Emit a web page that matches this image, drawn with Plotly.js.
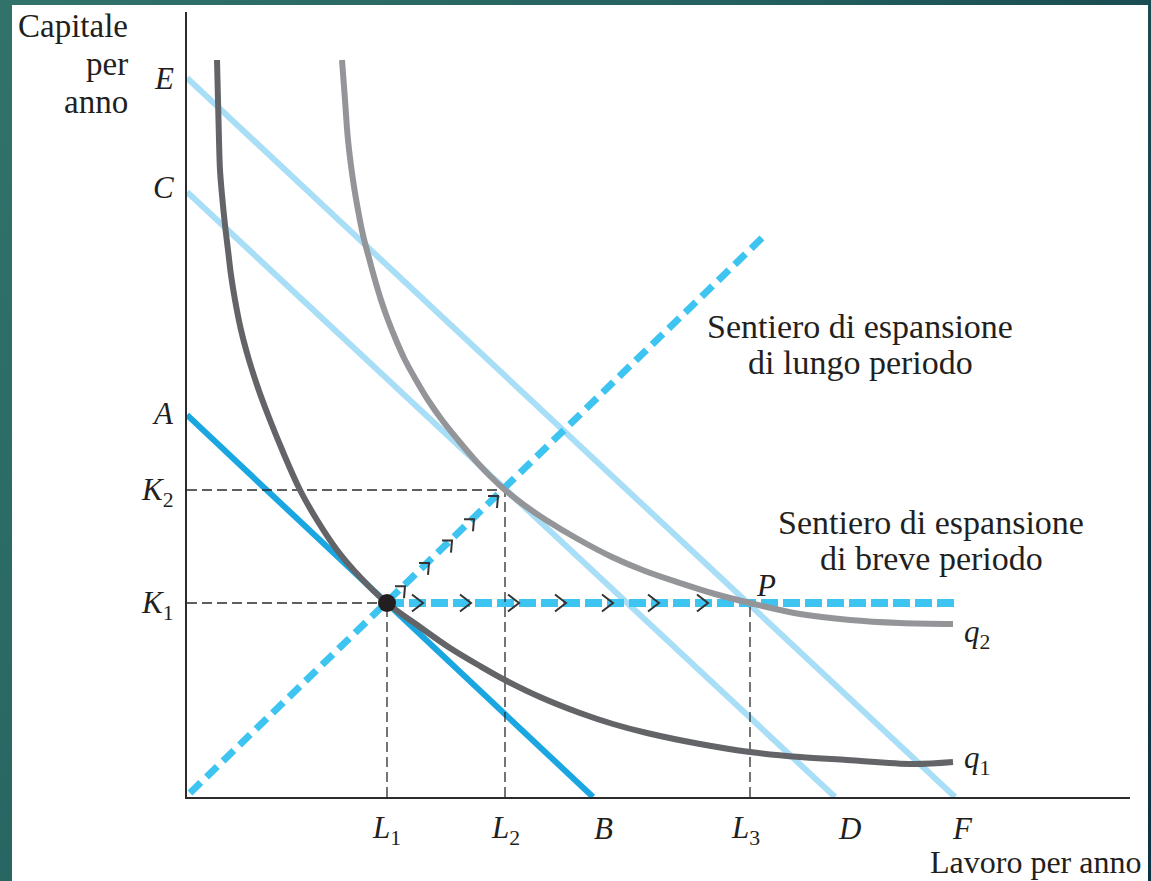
<!DOCTYPE html>
<html>
<head>
<meta charset="utf-8">
<script src="https://cdn.plot.ly/plotly-3.0.1.min.js"></script>
<style>
  html, body { margin: 0; padding: 0; }
  body {
    width: 1151px; height: 881px; overflow: hidden; position: relative;
    background: linear-gradient(120deg, #31736b 0%, #24605f 45%, #0c3344 100%);
  }
  #sheet { position: absolute; left: 12px; top: 5px; width: 1136px; height: 876px; background: #ffffff; }
  #chart { position: absolute; left: 0; top: 0; width: 1151px; height: 881px; }
</style>
</head>
<body>
<div id="sheet"></div>
<div id="chart"></div>
<script>
// Input choices: labour (L) on the horizontal axis, capital (K) on the vertical axis.
const L1 = 2.00, L2 = 3.18, L3 = 5.63;
const K1 = 1.94, K2 = 3.07;

// Isocost lines: vertical intercepts (A, C, E) and horizontal intercepts (B, D, F)
const isocostK0 = [3.82, 6.05, 7.19];
const isocostL0 = [4.06, 6.48, 7.68];
const isocostColors = ['#19a6e1', '#a9def7', '#a9def7'];

// Isoquant q1
const q1L = [0.30, 0.31, 0.32, 0.33, 0.35, 0.38, 0.41, 0.44, 0.48, 0.54, 0.62, 0.71, 0.81, 0.96, 1.13,
             1.30, 1.50, 1.73, 2.00, 2.33, 2.63, 2.93, 3.18, 3.53, 3.93, 4.26, 4.60, 5.13, 5.63, 6.13,
             6.60, 7.26, 7.66];
const q1K = [7.37, 6.97, 6.57, 6.27, 6.02, 5.72, 5.47, 5.22, 4.97, 4.67, 4.37, 4.09, 3.82, 3.45, 3.07,
             2.77, 2.47, 2.20, 1.94, 1.70, 1.49, 1.31, 1.17, 1.00, 0.84, 0.73, 0.64, 0.53, 0.45, 0.40,
             0.37, 0.33, 0.35];

// Isoquant q2
const q2L = [1.55, 1.58, 1.61, 1.66, 1.71, 1.76, 1.82, 1.88, 1.94, 2.01, 2.09, 2.18, 2.29, 2.41, 2.55,
             2.71, 2.88, 3.02, 3.18, 3.37, 3.59, 3.89, 4.25, 4.58, 4.93, 5.28, 5.63, 6.13, 6.63, 7.13, 7.66];
const q2K = [7.37, 6.97, 6.57, 6.17, 5.87, 5.62, 5.39, 5.17, 4.97, 4.77, 4.57, 4.37, 4.17, 3.97, 3.77,
             3.57, 3.37, 3.22, 3.07, 2.92, 2.77, 2.59, 2.40, 2.26, 2.14, 2.03, 1.94, 1.83, 1.77, 1.74, 1.73];

// Expansion paths
const longRunL = [0.03, 5.78];
const longRunK = [0.04, 5.62];
const shortRunL = [L1, 7.68];
const shortRunK = [K1, K1];

// Direction arrows along each path
const shortRunArrowL = [2.30, 2.78, 3.26, 3.73, 4.20, 4.66, 5.15];
const longRunArrowL = [2.13, 2.37, 2.60, 2.82, 3.06];

// Axis extent in data units
const xMax = 9.43, yMax = 7.85;

const serif = 'Liberation Serif, Times New Roman, serif';
const ink = '#231f20';

function line(x, y, color, width, dash, shape) {
  return {
    type: 'scatter', mode: 'lines', x: x, y: y, hoverinfo: 'skip', showlegend: false,
    line: { color: color, width: width, dash: dash || 'solid', shape: shape || 'linear', smoothing: 1 }
  };
}

const traces = [];

// isocost lines
for (let i = 0; i < isocostK0.length; i++) {
  traces.push(line([0, isocostL0[i]], [isocostK0[i], 0], isocostColors[i], 6));
}

// expansion paths
traces.push(line(longRunL, longRunK, '#3ec4f1', 7, '15px,8px'));
traces.push(line(shortRunL, shortRunK, '#3ec4f1', 8, '17px,5px'));

// dashed guides to the axes
const guide = '#2b2b2b';
traces.push(line([0, L1], [K1, K1], guide, 1.3, '10px,5px'));
traces.push(line([0, L2], [K2, K2], guide, 1.3, '10px,5px'));
traces.push(line([L1, L1], [0, K1], guide, 1.3, '10px,5px'));
traces.push(line([L2, L2], [0, K2], guide, 1.3, '10px,5px'));
traces.push(line([L3, L3], [0, K1], guide, 1.3, '10px,5px'));

// isoquants
traces.push(line(q2L, q2K, '#939598', 6, 'solid', 'spline'));
traces.push(line(q1L, q1K, '#636467', 6, 'solid', 'spline'));

// arrow heads along the short-run path
const shX = [], shY = [];
shortRunArrowL.forEach(function (l) {
  shX.push(l - 0.05, l + 0.06, l - 0.05, null);
  shY.push(K1 + 0.085, K1, K1 - 0.085, null);
});
traces.push(line(shX, shY, '#333333', 2));

// arrow heads along the long-run path
const slope = (longRunK[1] - longRunK[0]) / (longRunL[1] - longRunL[0]);
const lrX = [], lrY = [];
longRunArrowL.forEach(function (l) {
  const k = longRunK[0] + slope * (l - longRunL[0]);
  const tx = l + 0.05, ty = k + 0.03;
  lrX.push(tx - 0.10, tx, tx - 0.01, null);
  lrY.push(ty, ty, ty - 0.12, null);
});
traces.push(line(lrX, lrY, '#333333', 2));

// starting point
traces.push({
  type: 'scatter', mode: 'markers', x: [L1], y: [K1], hoverinfo: 'skip', showlegend: false,
  marker: { size: 18, color: ink }
});

// text placed at data positions (converted to paper fractions so it can sit beside the axes)
function label(text, x, y, xanchor, size) {
  return {
    text: text, x: x / xMax, y: y / yMax, xref: 'paper', yref: 'paper', showarrow: false,
    xanchor: xanchor || 'center', yanchor: 'middle', align: 'center',
    font: { family: serif, size: size || 31, color: ink }
  };
}

const annotations = [
  label('Capitale', -0.57, 7.71, 'right', 33),
  label('per', -0.57, 7.33, 'right', 33),
  label('anno', -0.57, 6.95, 'right', 33),
  label('<i>E</i>', -0.11, isocostK0[2] - 0.01, 'right'),
  label('<i>C</i>', -0.11, isocostK0[1] + 0.04, 'right'),
  label('<i>A</i>', -0.11, isocostK0[0] + 0.02, 'right'),
  label('<i>K</i><sub>2</sub>', -0.11, K2 - 0.02, 'right'),
  label('<i>K</i><sub>1</sub>', -0.11, K1 - 0.02, 'right'),
  label('<i>L</i><sub>1</sub>', L1 - 0.01, -0.33),
  label('<i>L</i><sub>2</sub>', L2, -0.33),
  label('<i>B</i>', isocostL0[0] + 0.10, -0.31),
  label('<i>L</i><sub>3</sub>', L3 - 0.05, -0.33),
  label('<i>D</i>', isocostL0[1] + 0.14, -0.31),
  label('<i>F</i>', isocostL0[2] + 0.07, -0.31),
  label('Lavoro per anno', 9.56, -0.65, 'right', 32),
  label('<i>q</i><sub>2</sub>', 7.75, 1.63, 'left'),
  label('<i>q</i><sub>1</sub>', 7.75, 0.37, 'left'),
  label('<i>P</i>', 5.79, 2.12),
  label('Sentiero di espansione', 6.73, 4.70, 'center', 34),
  label('di lungo periodo', 6.73, 4.345, 'center', 34),
  label('Sentiero di espansione', 7.44, 2.75, 'center', 34),
  label('di breve periodo', 7.44, 2.385, 'center', 34)
];

const layout = {
  width: 1151, height: 881,
  margin: { l: 187, r: 21, t: 12, b: 84, pad: 0 },
  paper_bgcolor: 'rgba(0,0,0,0)', plot_bgcolor: 'rgba(0,0,0,0)',
  showlegend: false,
  xaxis: {
    range: [0, xMax], showgrid: false, zeroline: false, showticklabels: false, ticks: '',
    showline: true, linecolor: '#2b2b2b', linewidth: 1.6, fixedrange: true
  },
  yaxis: {
    range: [0, yMax], showgrid: false, zeroline: false, showticklabels: false, ticks: '',
    showline: true, linecolor: '#2b2b2b', linewidth: 1.6, fixedrange: true
  },
  annotations: annotations
};

Plotly.newPlot('chart', traces, layout, { staticPlot: true, displayModeBar: false });
</script>
</body>
</html>
